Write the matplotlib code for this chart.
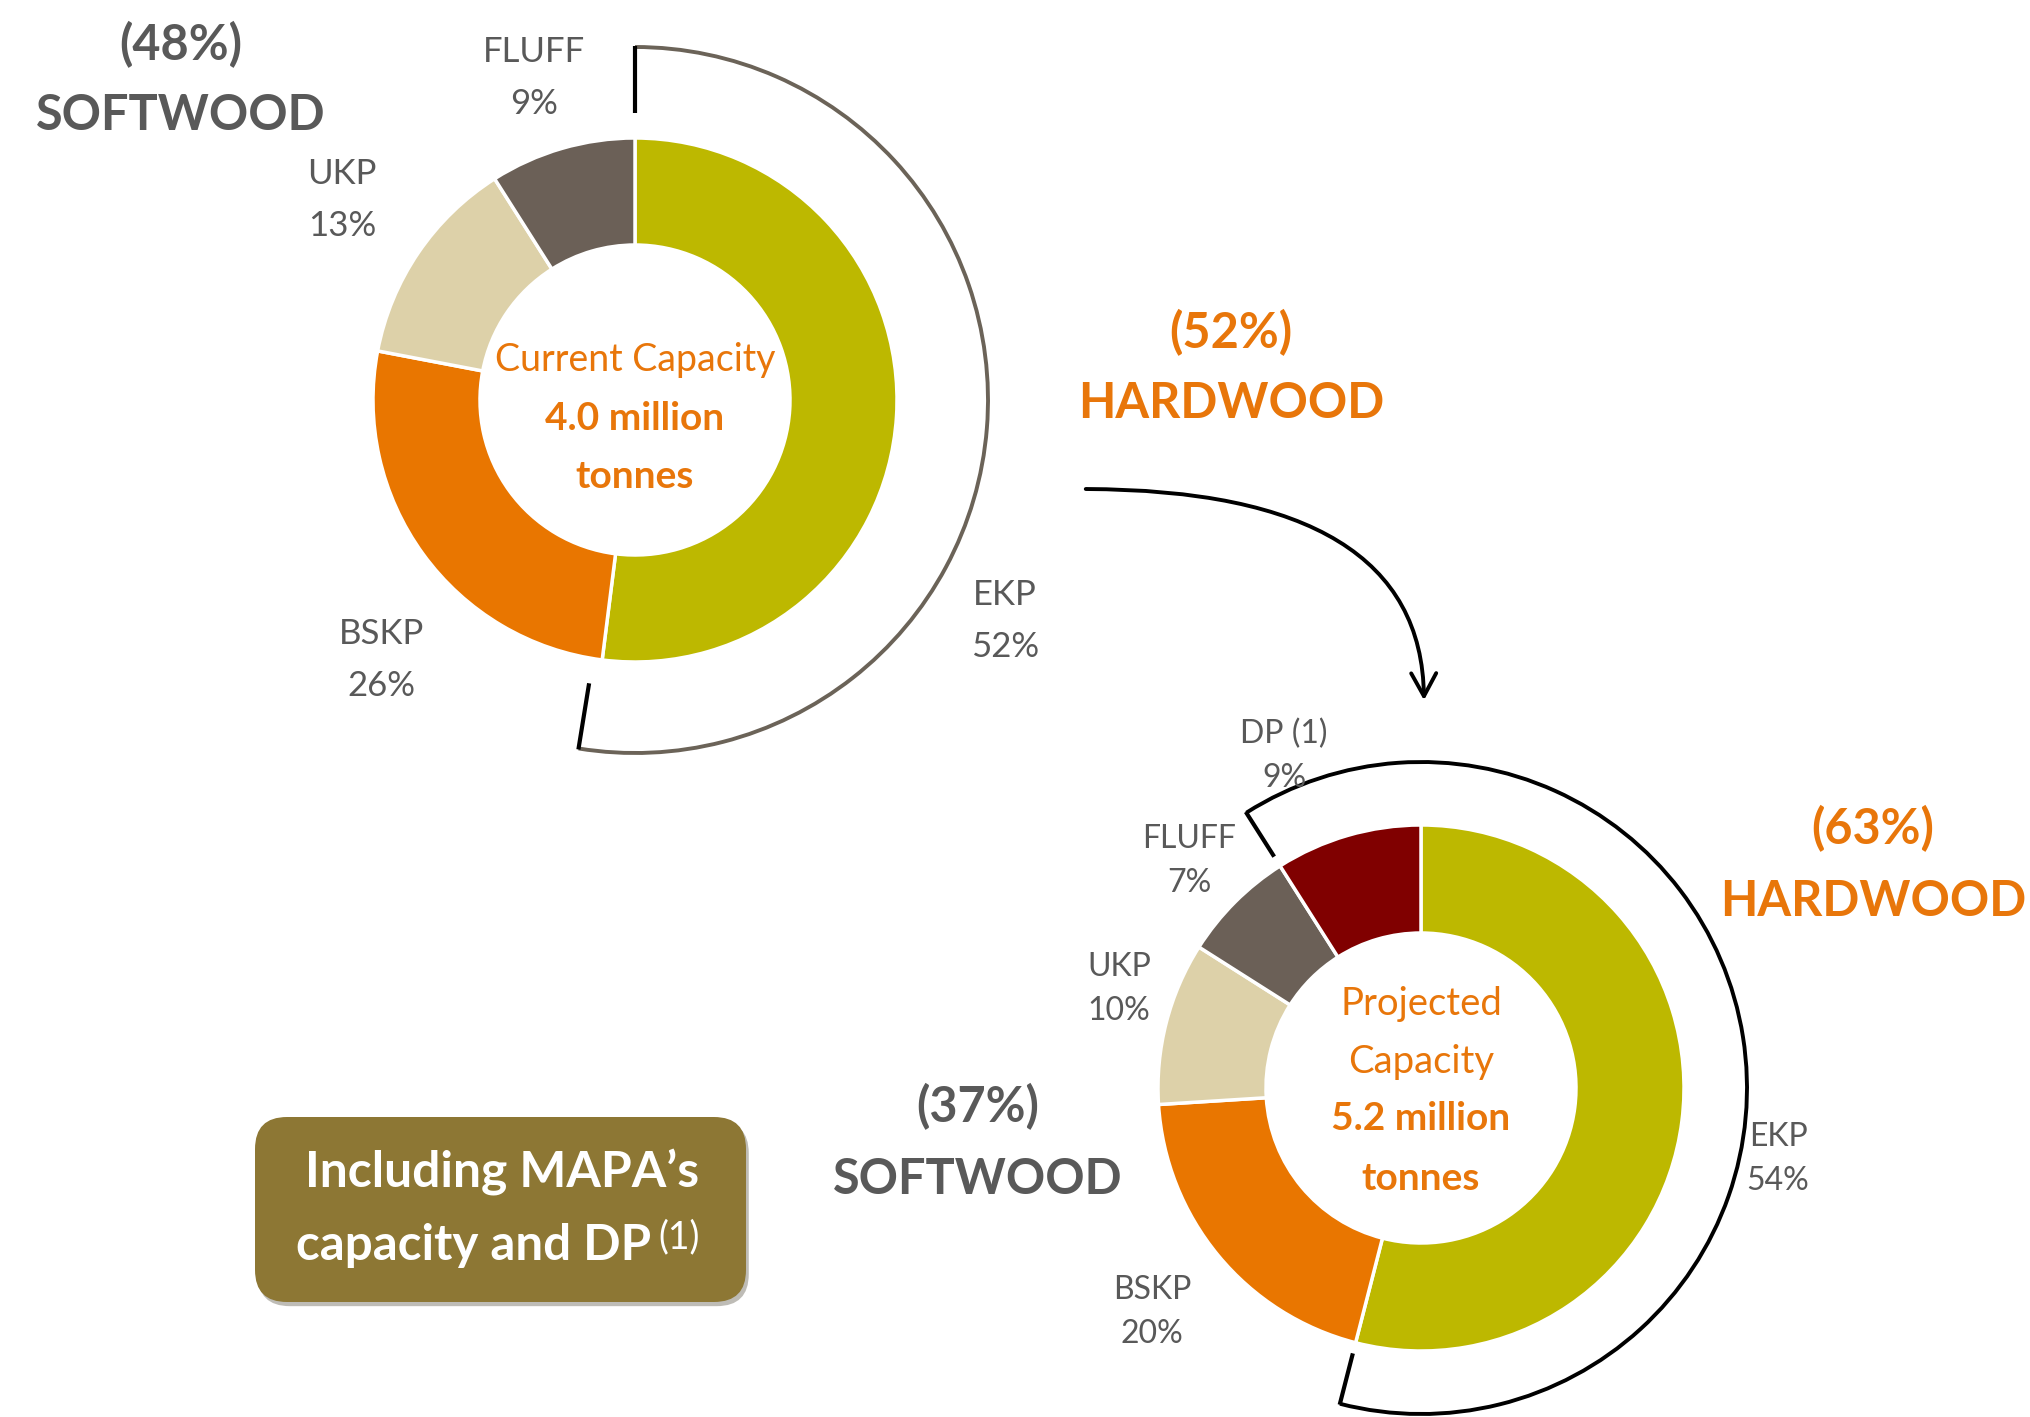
import matplotlib.pyplot as plt
from matplotlib.patches import Arc, FancyArrowPatch, FancyBboxPatch
import matplotlib.patheffects as pe
import numpy as np

plt.rcParams['font.family'] = ['Lato', 'DejaVu Sans']

# data
current_labels = ['EKP', 'BSKP', 'UKP', 'FLUFF']
current_share = [52, 26, 13, 9]
current_total = '4.0 million'
projected_labels = ['EKP', 'BSKP', 'UKP', 'FLUFF', 'DP (1)']
projected_share = [54, 20, 10, 7, 9]
projected_total = '5.2 million'
current_hardwood = 52
current_softwood = 48
projected_hardwood = 63
projected_softwood = 37

slice_colors = {'EKP': '#BDB800', 'BSKP': '#E97600', 'UKP': '#DDD1A9',
                'FLUFF': '#6B6057', 'DP (1)': '#800000'}
orange = '#E8760A'
grey_txt = '#595959'

W, H = 2031, 1417
def Y(y):
    return H - y

fig = plt.figure(figsize=(20.31, 14.17), dpi=100)
ax = fig.add_axes([0, 0, 1, 1])

def donut(labels, share, cx, cy, R, r):
    ax.pie(share, colors=[slice_colors[l] for l in labels], startangle=90,
           counterclock=False, radius=R, center=(cx, Y(cy)),
           wedgeprops=dict(width=R - r, edgecolor='white', linewidth=2.5))

def bracket(cx, cy, theta1, theta2, R, r_tick, color, tick_color):
    ax.add_patch(Arc((cx, Y(cy)), 2 * R, 2 * R, theta1=theta1, theta2=theta2,
                     color=color, lw=2.8))
    for t in (theta1, theta2):
        a = np.deg2rad(t)
        ax.plot([cx + r_tick * np.cos(a), cx + (R + 1) * np.cos(a)],
                [Y(cy) + r_tick * np.sin(a), Y(cy) + (R + 1) * np.sin(a)],
                color=tick_color, lw=3, solid_capstyle='butt')

# current capacity
c1 = (635, 400)
donut(current_labels, current_share, c1[0], c1[1], 262, 155)
end1 = 90 - 3.6 * current_share[0] - 2
bracket(c1[0], c1[1], end1, 90, 353, 287, '#6B6358', 'black')

# projected capacity
c2 = (1421, 1088)
donut(projected_labels, projected_share, c2[0], c2[1], 263, 155)
end2a = 90 - 3.6 * projected_share[0]
end2b = 90 + 3.6 * projected_share[-1]
bracket(c2[0], c2[1], end2a, end2b, 326, 274, 'black', 'black')

# slice labels
lab1_pos = {'FLUFF': (534, 78), 'UKP': (342, 200), 'BSKP': (381, 660), 'EKP': (1005, 621)}
for l, v in zip(current_labels, current_share):
    x, y = lab1_pos[l]
    ax.text(x, Y(y), f'{l}\n{v}%', ha='center', va='center', fontsize=25,
            color=grey_txt, linespacing=1.75)
lab2_pos = {'DP (1)': (1284, 756), 'FLUFF': (1189, 861), 'UKP': (1119, 989),
            'BSKP': (1152, 1312), 'EKP': (1778, 1159)}
for l, v in zip(projected_labels, projected_share):
    x, y = lab2_pos[l]
    ax.text(x, Y(y), f'{l}\n{v}%', ha='center', va='center', fontsize=23,
            color=grey_txt, linespacing=1.6)

# centre texts
ax.text(c1[0], Y(360), 'Current Capacity', ha='center', va='center',
        fontsize=27, color=orange)
ax.text(c1[0], Y(419), current_total, ha='center', va='center',
        fontsize=28, color=orange, fontweight='bold')
ax.text(c1[0], Y(477), 'tonnes', ha='center', va='center',
        fontsize=28, color=orange, fontweight='bold')

ax.text(c2[0], Y(1004), 'Projected', ha='center', va='center',
        fontsize=27.5, color=orange)
ax.text(c2[0], Y(1062), 'Capacity', ha='center', va='center',
        fontsize=27.5, color=orange)
ax.text(c2[0], Y(1119), projected_total, ha='center', va='center',
        fontsize=28, color=orange, fontweight='bold')
ax.text(c2[0], Y(1179), 'tonnes', ha='center', va='center',
        fontsize=28, color=orange, fontweight='bold')

# wood type headings
def heading(x, y1, y2, pct, name, color):
    ax.text(x, Y(y1), f'({pct}%)', ha='center', va='center', fontsize=35,
            color=color, fontweight='bold')
    ax.text(x, Y(y2), name, ha='center', va='center', fontsize=35,
            color=color, fontweight='bold')

heading(181, 45, 116, current_softwood, 'SOFTWOOD', grey_txt)
heading(1231, 333, 404, current_hardwood, 'HARDWOOD', orange)
heading(1873, 829, 902, projected_hardwood, 'HARDWOOD', orange)
heading(978, 1107, 1179, projected_softwood, 'SOFTWOOD', grey_txt)

# arrow
arrow = FancyArrowPatch((1083, Y(489)), (1424, Y(703)),
                        connectionstyle='angle3,angleA=0,angleB=90',
                        arrowstyle='->,head_length=0.55,head_width=0.3',
                        mutation_scale=30, lw=2.8, color='black')
ax.add_patch(arrow)

# note box
box = FancyBboxPatch((255, Y(1302)), 491, 185,
                     boxstyle='round,pad=0,rounding_size=32',
                     facecolor='#8D7734', edgecolor='none',
                     path_effects=[pe.SimplePatchShadow(offset=(2, -3), alpha=0.3),
                                   pe.Normal()])
ax.add_patch(box)
ax.text(502, Y(1172), "Including MAPA\u2019s", ha='center', va='center',
        fontsize=35.8, color='white', fontweight='bold')
t2 = ax.text(474, Y(1246), 'capacity and DP', ha='center', va='center',
             fontsize=35.5, color='white', fontweight='bold')
ax.annotate('(1)', xy=(1, 1), xycoords=t2, xytext=(5, 3),
            textcoords='offset points', ha='left', va='top',
            fontsize=27, color='white')

ax.set_xlim(0, W)
ax.set_ylim(0, H)
ax.set_aspect('equal')
ax.axis('off')

plt.savefig('out.png', dpi=100)
plt.close()
